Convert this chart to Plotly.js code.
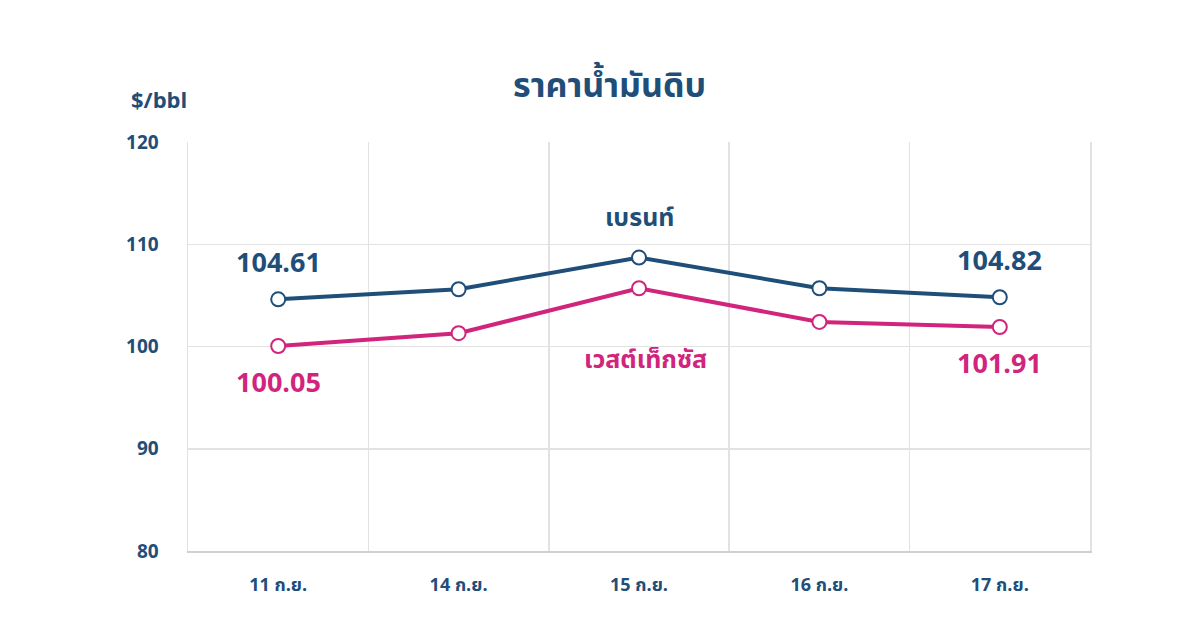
<!DOCTYPE html>
<html>
<head>
<meta charset="utf-8">
<script src="https://cdn.plot.ly/plotly-3.0.1.min.js"></script>
<style>
  html, body { margin: 0; padding: 0; background: #fff; }
  #chart { width: 1200px; height: 629px; }
</style>
</head>
<body>
<div id="chart"></div>
<script>
// values
const days = ['11 ก.ย.', '14 ก.ย.', '15 ก.ย.', '16 ก.ย.', '17 ก.ย.'];
const brent = [104.61, 105.6, 108.7, 105.7, 104.82];
const wti = [100.05, 101.3, 105.7, 102.4, 101.91];

const blue = '#1f4e79';
const pink = '#d0247d';
const font = '"Noto Sans Thai", "Noto Sans", "Liberation Sans", sans-serif';

function lineTrace(y, color, name) {
  return {
    x: days, y: y, name: name,
    type: 'scatter', mode: 'lines+markers',
    line: {color: color, width: 4},
    marker: {symbol: 'circle', size: 14, color: '#fff', line: {color: color, width: 2}},
    hoverinfo: 'skip'
  };
}

const data = [lineTrace(brent, blue, 'เบรนท์'), lineTrace(wti, pink, 'เวสต์เท็กซัส')];

const last = days.length - 1;
const numFont = (c) => ({family: font, size: 27, color: c, weight: 'bold'});
const annotations = [
  // value labels on the first and last day
  {x: days[0], y: brent[0], text: '104.61', yshift: 36, font: numFont(blue)},
  {x: days[last], y: brent[last], text: '104.82', yshift: 36, font: numFont(blue)},
  {x: days[0], y: wti[0], text: '100.05', yshift: -38, font: numFont(pink)},
  {x: days[last], y: wti[last], text: '101.91', yshift: -38, font: numFont(pink)},
  // series names
  {x: days[2], y: brent[2], text: 'เบรนท์', yshift: 40, font: {family: font, size: 25, color: blue, weight: 'bold'}},
  {x: days[2], y: wti[2], text: 'เวสต์เท็กซัส', xshift: 6, yshift: -72, font: {family: font, size: 25, color: pink, weight: 'bold'}},
  // unit
  {xref: 'paper', yref: 'paper', x: -0.032, y: 1.145, xanchor: 'center', text: '$/bbl',
   font: {family: font, size: 22, color: blue, weight: 'bold'}}
].map(a => Object.assign({showarrow: false}, a));

const layout = {
  width: 1200, height: 629,
  paper_bgcolor: '#fff', plot_bgcolor: '#fff',
  margin: {l: 188, r: 110, t: 142, b: 78},
  showlegend: false,
  title: {
    text: 'ราคาน้ำมันดิบ',
    x: 0.508, xanchor: 'center', y: 0.865, yanchor: 'middle',
    font: {family: font, size: 34, color: blue, weight: 'bold'}
  },
  xaxis: {
    type: 'category',
    range: [-0.5, days.length - 0.5],
    tickson: 'boundaries',
    showgrid: true, gridcolor: '#e2e2e2', gridwidth: 1.5,
    showline: true, linecolor: '#d0d0d0', linewidth: 2,
    ticks: '', ticklabelstandoff: 16,
    tickfont: {family: font, size: 18, color: blue, weight: 'bold'},
    zeroline: false
  },
  yaxis: {
    range: [80, 120], tickvals: [80, 90, 100, 110, 120],
    showgrid: true, gridcolor: '#e2e2e2', gridwidth: 1.5,
    showline: true, mirror: true, linecolor: '#e2e2e2', linewidth: 1.5,
    zeroline: false,
    ticks: 'outside', ticklen: 24, tickcolor: 'rgba(0,0,0,0)',
    tickfont: {family: font, size: 19, color: blue, weight: 'bold'}
  },
  annotations: annotations
};

Plotly.newPlot('chart', data, layout, {staticPlot: true});
</script>
</body>
</html>
